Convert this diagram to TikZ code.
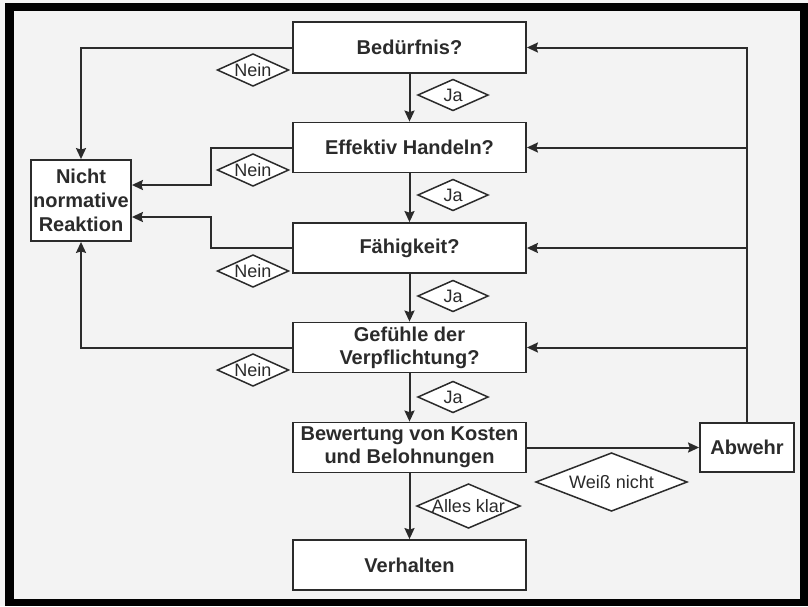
\documentclass[tikz,border=0pt]{standalone}
\usepackage{fontspec}
\setmainfont{Liberation Sans}
\usetikzlibrary{arrows.meta,calc}
\definecolor{ink}{HTML}{2B2B2B}
\definecolor{paper}{HTML}{F3F3F3}
\tikzset{
 box/.style={draw=ink, line width=1.8pt, fill=white, minimum width=233pt, minimum height=50pt, inner sep=0pt, align=center, font=\bfseries\fontsize{20}{23}\selectfont, text=ink},
 lbl/.style={inner sep=0pt, font=\fontsize{18}{20}\selectfont, text=ink},
 diam/.style={draw=ink, line width=1.5pt, fill=white, line join=miter},
 conn/.style={draw=ink, line width=2pt},
 arr/.style={conn, -{Stealth[length=11pt,width=10pt,inset=1.5pt]}},
}
\newcommand\dmd[6]{%
 \path[diam] ({#2-#4/2},#3) -- (#2,{#3-#5/2}) -- ({#2+#4/2},#3) -- (#2,{#3+#5/2}) -- cycle;
 \node[lbl] (#1) at (#2,#3) {#6};}
\begin{document}
\begin{tikzpicture}[x=1pt,y=-1pt]
\useasboundingbox (0,0) rectangle (808,606);
\fill[paper] (0,0) rectangle (808,606);
\fill[black] (5,3) rectangle (808,11);
\fill[black] (5,3) rectangle (14,606);
\fill[black] (800,3) rectangle (808,606);
\fill[black] (5,599) rectangle (808,606);

% boxes
\node[box, minimum height=51pt] (bed) at (409.5,47.5) {Bedürfnis?};
\node[box] (eff) at (409.5,147.5) {Effektiv Handeln?};
\node[box] (fae) at (409.5,248) {Fähigkeit?};
\node[box] (gef) at (409.5,347.5) {Gefühle der\\Verpflichtung?};
\node[box] (bew) at (409.5,447.5) {Bewertung von Kosten\\und Belohnungen};
\node[box] (ver) at (409.5,565) {Verhalten};
\node[box, minimum width=100pt, minimum height=81pt, font=\bfseries\fontsize{20}{24}\selectfont] (nic) at (81,200.5) {Nicht\\normative\\Reaktion};
\node[box, minimum width=94pt, minimum height=49pt] (abw) at (747,447.5) {Abwehr};

% main flow
\draw[arr] (bed.south) -- (eff.north);
\draw[arr] (eff.south) -- (fae.north);
\draw[arr] (fae.south) -- (gef.north);
\draw[arr] (gef.south) -- (bew.north);
\draw[arr] (bew.south) -- (ver.north);
\draw[arr] (bew.east) -- (abw.west);

% Nein paths
\draw[arr] (bed.west) -| (nic.north);
\draw[arr] (eff.west) -- ++(-81,0) |- ($(nic.east)+(0,-15.5)$);
\draw[arr] (fae.west) -- ++(-81,0) |- ($(nic.east)+(0,16.5)$);
\draw[arr] (gef.west) -| (nic.south);

% feedback from Abwehr
\draw[arr] (abw.north) |- (bed.east);
\draw[arr] (abw.north |- eff.east) -- (eff.east);
\draw[arr] (abw.north |- fae.east) -- (fae.east);
\draw[arr] (abw.north |- gef.east) -- (gef.east);

% labels
\dmd{n1}{253}{70}{71}{32}{Nein}
\dmd{n2}{253}{170}{71}{32}{Nein}
\dmd{n3}{253}{271}{71}{32}{Nein}
\dmd{n4}{253}{370}{71}{32}{Nein}
\dmd{j1}{453}{95}{70}{31}{Ja}
\dmd{j2}{453}{195}{70}{31}{Ja}
\dmd{j3}{453}{296}{70}{31}{Ja}
\dmd{j4}{453}{397}{70}{31}{Ja}
\dmd{wn}{611.5}{482}{151}{58}{Weiß nicht}
\dmd{ak}{468.5}{506}{103}{44}{Alles klar}
\end{tikzpicture}
\end{document}
